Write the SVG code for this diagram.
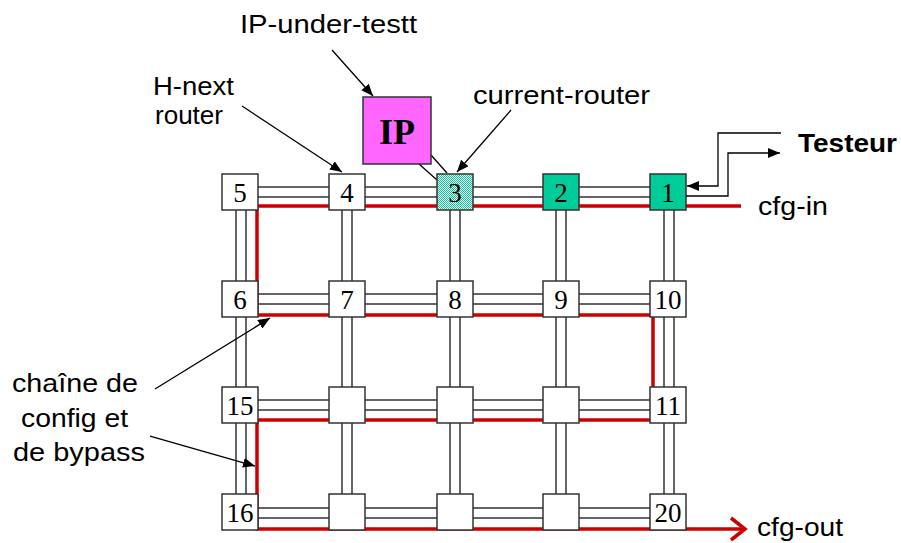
<svg xmlns="http://www.w3.org/2000/svg" width="901" height="543" viewBox="0 0 901 543">
<style>
.lbl{font-family:"Liberation Sans",Arial,sans-serif;font-size:26px;fill:#000}
.bold{font-weight:bold}
.num{font-family:"Liberation Serif","Times New Roman",serif;font-size:27px;fill:#000;text-anchor:middle}
.box{fill:#fff;stroke:#333;stroke-width:1.5}
.link{fill:none;stroke:#333;stroke-width:1.5}
.chain{fill:none;stroke:#cc0000;stroke-width:3.5}
.arr{fill:none;stroke:#000;stroke-width:1.3}
</style>
<defs>
<marker id="ah" viewBox="0 0 12 10" refX="12" refY="5" markerWidth="12" markerHeight="10" orient="auto" markerUnits="userSpaceOnUse">
<path d="M0,0 L12,5 L0,10 z" fill="#000"/>
</marker>
<pattern id="chk" width="2" height="2" patternUnits="userSpaceOnUse">
<rect width="2" height="2" fill="#ffffff"/>
<rect width="1" height="1" fill="#00cc99"/>
<rect x="1" y="1" width="1" height="1" fill="#00cc99"/>
</pattern>
</defs>
<rect width="901" height="543" fill="#fff"/>

<g id="connectors">
<path class="link" d="M258 187H329M365 187H437M473 187H543M579 187H650M258 197H329M365 197H437M473 197H543M579 197H650"/>
<path class="link" d="M258 294H329M365 294H437M473 294H543M579 294H650M258 304H329M365 304H437M473 304H543M579 304H650"/>
<path class="link" d="M258 400H329M365 400H437M473 400H543M579 400H650M258 410H329M365 410H437M473 410H543M579 410H650"/>
<path class="link" d="M258 508H329M365 508H437M473 508H543M579 508H650M258 518H329M365 518H437M473 518H543M579 518H650"/>
<path class="link" d="M236 210V281M246 210V281M236 317V387M246 317V387M236 423V494M246 423V494"/>
<path class="link" d="M342 210V281M352 210V281M342 317V387M352 317V387M342 423V494M352 423V494"/>
<path class="link" d="M450 210V281M460 210V281M450 317V387M460 317V387M450 423V494M460 423V494"/>
<path class="link" d="M556 210V281M566 210V281M556 317V387M566 317V387M556 423V494M566 423V494"/>
<path class="link" d="M664 210V281M674 210V281M664 317V387M674 317V387M664 423V494M674 423V494"/>
<path class="chain" d="M741 206H257V315H653V420H257V529H744"/>
<polyline class="chain" points="731,518 745,529 731,540"/>
<path class="arr" d="M419 164L437 180M431 155L447 173"/>
</g>

<g id="node-IP">
<rect x="363" y="97" width="68" height="67" fill="#ff66ff" stroke="#333" stroke-width="1.5"/>
<text x="397" y="144" font-family="'Liberation Serif','Times New Roman',serif" font-size="36" font-weight="bold" text-anchor="middle">IP</text>
</g>

<g id="router-5"><rect class="box" x="222" y="174" width="36" height="36"/><text class="num" x="240" y="202">5</text></g>
<g id="router-4"><rect class="box" x="329" y="174" width="36" height="36"/><text class="num" x="347" y="202">4</text></g>
<g id="router-3"><rect x="437" y="174" width="36" height="36" fill="url(#chk)" stroke="#333" stroke-width="1.5"/><text class="num" x="455" y="202">3</text></g>
<g id="router-2"><rect x="543" y="174" width="36" height="36" fill="#00cc99" stroke="#333" stroke-width="1.5"/><text class="num" x="561" y="202">2</text></g>
<g id="router-1"><rect x="650" y="174" width="36" height="36" fill="#00cc99" stroke="#333" stroke-width="1.5"/><text class="num" x="668" y="202">1</text></g>

<g id="router-6"><rect class="box" x="222" y="281" width="36" height="36"/><text class="num" x="240" y="309">6</text></g>
<g id="router-7"><rect class="box" x="329" y="281" width="36" height="36"/><text class="num" x="347" y="309">7</text></g>
<g id="router-8"><rect class="box" x="437" y="281" width="36" height="36"/><text class="num" x="455" y="309">8</text></g>
<g id="router-9"><rect class="box" x="543" y="281" width="36" height="36"/><text class="num" x="561" y="309">9</text></g>
<g id="router-10"><rect class="box" x="650" y="281" width="36" height="36"/><text class="num" x="668" y="309">10</text></g>

<g id="router-15"><rect class="box" x="222" y="387" width="36" height="36"/><text class="num" x="240" y="415">15</text></g>
<g id="router-r3c2"><rect class="box" x="329" y="387" width="36" height="36"/></g>
<g id="router-r3c3"><rect class="box" x="437" y="387" width="36" height="36"/></g>
<g id="router-r3c4"><rect class="box" x="543" y="387" width="36" height="36"/></g>
<g id="router-11"><rect class="box" x="650" y="387" width="36" height="36"/><text class="num" x="668" y="415">11</text></g>

<g id="router-16"><rect class="box" x="222" y="494" width="36" height="36"/><text class="num" x="240" y="522">16</text></g>
<g id="router-r4c2"><rect class="box" x="329" y="494" width="36" height="36"/></g>
<g id="router-r4c3"><rect class="box" x="437" y="494" width="36" height="36"/></g>
<g id="router-r4c4"><rect class="box" x="543" y="494" width="36" height="36"/></g>
<g id="router-20"><rect class="box" x="650" y="494" width="36" height="36"/><text class="num" x="668" y="522">20</text></g>

<g id="annotations">
<path class="arr" marker-end="url(#ah)" d="M332 50L373 96"/>
<path class="arr" marker-end="url(#ah)" d="M242 106L342 172"/>
<path class="arr" marker-end="url(#ah)" d="M511 110L457 172"/>
<path class="arr" marker-end="url(#ah)" d="M155 389L270 318"/>
<path class="arr" marker-end="url(#ah)" d="M150 436L255 466"/>
<path class="arr" marker-end="url(#ah)" d="M781 133H718V186H687"/>
<path class="arr" marker-end="url(#ah)" d="M686 196H728V153H780"/>
</g>

<g id="labels">
<text class="lbl" x="240" y="33" textLength="177" lengthAdjust="spacingAndGlyphs">IP-under-testt</text>
<text class="lbl" x="153" y="95" textLength="81" lengthAdjust="spacingAndGlyphs">H-next</text>
<text class="lbl" x="155" y="124" textLength="68" lengthAdjust="spacingAndGlyphs">router</text>
<text class="lbl" x="473" y="104" textLength="177" lengthAdjust="spacingAndGlyphs">current-router</text>
<text class="lbl bold" x="798" y="152" textLength="99" lengthAdjust="spacingAndGlyphs">Testeur</text>
<text class="lbl" x="758" y="215" textLength="70" lengthAdjust="spacingAndGlyphs">cfg-in</text>
<text class="lbl" x="757" y="536" textLength="86" lengthAdjust="spacingAndGlyphs">cfg-out</text>
<text class="lbl" x="12" y="392" textLength="126" lengthAdjust="spacingAndGlyphs">chaîne de</text>
<text class="lbl" x="21" y="427" textLength="107" lengthAdjust="spacingAndGlyphs">config et</text>
<text class="lbl" x="13" y="461" textLength="132" lengthAdjust="spacingAndGlyphs">de bypass</text>
</g>
</svg>
